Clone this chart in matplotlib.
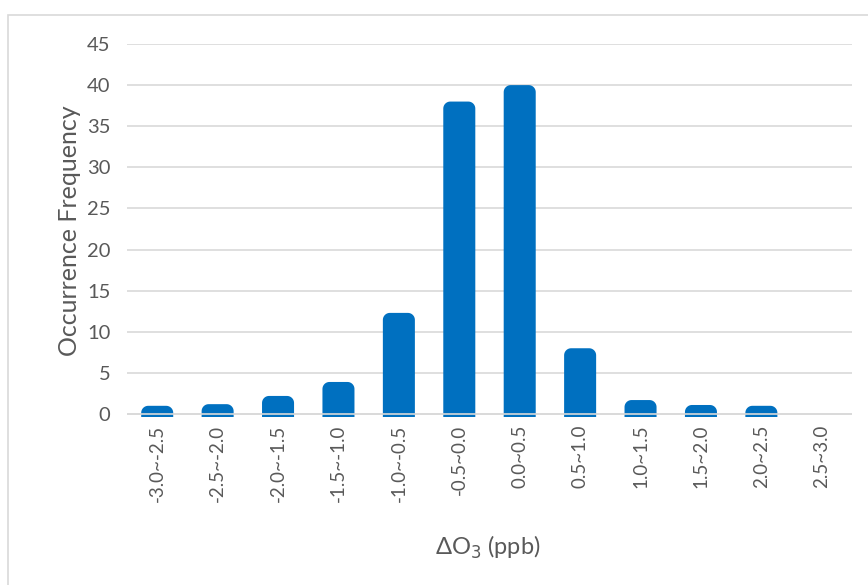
import matplotlib
matplotlib.use("Agg")
import numpy as np
import matplotlib.pyplot as plt
from matplotlib.patches import PathPatch, Rectangle
from matplotlib.path import Path

bins = ["-3.0~-2.5", "-2.5~-2.0", "-2.0~-1.5", "-1.5~-1.0", "-1.0~-0.5", "-0.5~0.0",
        "0.0~0.5", "0.5~1.0", "1.0~1.5", "1.5~2.0", "2.0~2.5", "2.5~3.0"]
freq = [1.0, 1.2, 2.2, 3.9, 12.3, 38.0, 40.0, 8.0, 1.7, 1.1, 1.0, 0.0]

plt.rcParams['font.family'] = ['Lato', 'DejaVu Sans']
grey = "#595959"
blue = "#0070C0"

W, H = 868, 585
fig = plt.figure(figsize=(W / 100, H / 100), dpi=100)
left, right, top, bottom = 127, 852, 44, 416.5
ax = fig.add_axes([left / W, 1 - bottom / H, (right - left) / W, (bottom - top) / H])

# chart border
fig.patches.append(Rectangle((8 / W, -0.1), 1.2, 1.1 - 15 / H, transform=fig.transFigure,
                             fill=False, edgecolor="#d9d9d9", lw=1.2))

n = len(bins)
ax.set_xlim(-0.5, n - 0.5)
ymin = -0.3
ax.set_ylim(ymin, 45)

px_x = (right - left) / n
px_y = (bottom - top) / (45 - ymin)
radius = 7  # pixels
rx, ry = radius / px_x, radius / px_y
width = 0.53
t = np.linspace(0, np.pi / 2, 12)


def rounded_bar(xc, h):
    x0, x1 = xc - width / 2, xc + width / 2
    y0 = ymin - 1
    r_y = min(ry, h - y0)
    pts = [(x0, y0)]
    # top-left corner
    pts += [(x0 + rx - rx * np.cos(a), h - r_y + r_y * np.sin(a)) for a in t]
    # top-right corner
    pts += [(x1 - rx + rx * np.sin(a), h - r_y + r_y * np.cos(a)) for a in t]
    pts += [(x1, y0), (x0, y0)]
    return Path(pts, closed=True)


for i, v in enumerate(freq):
    if v <= 0:
        continue
    ax.add_patch(PathPatch(rounded_bar(i, v), facecolor=blue, edgecolor="none", zorder=2))

ax.set_yticks(range(0, 46, 5))
ax.yaxis.grid(True, color="#d9d9d9", lw=1.2, zorder=1)
ax.axhline(0, color="#d9d9d9", lw=1.2, zorder=3)
ax.set_axisbelow(True)
ax.set_xticks(range(n))
ax.set_xticklabels(bins, rotation=90, fontsize=13.5, color=grey)
ax.tick_params(axis="y", labelsize=14.5, labelcolor=grey, length=0, pad=12)
ax.tick_params(axis="x", length=0, pad=6)
for s in ax.spines.values():
    s.set_visible(False)

ax.set_ylabel("Occurrence Frequency", fontsize=18, color=grey, labelpad=4)
fig.text(488 / W, 1 - 547 / H, "ΔO$_3$ (ppb)", fontsize=17, color=grey,
         ha="center", va="center")

fig.savefig("out.png", dpi=100)
